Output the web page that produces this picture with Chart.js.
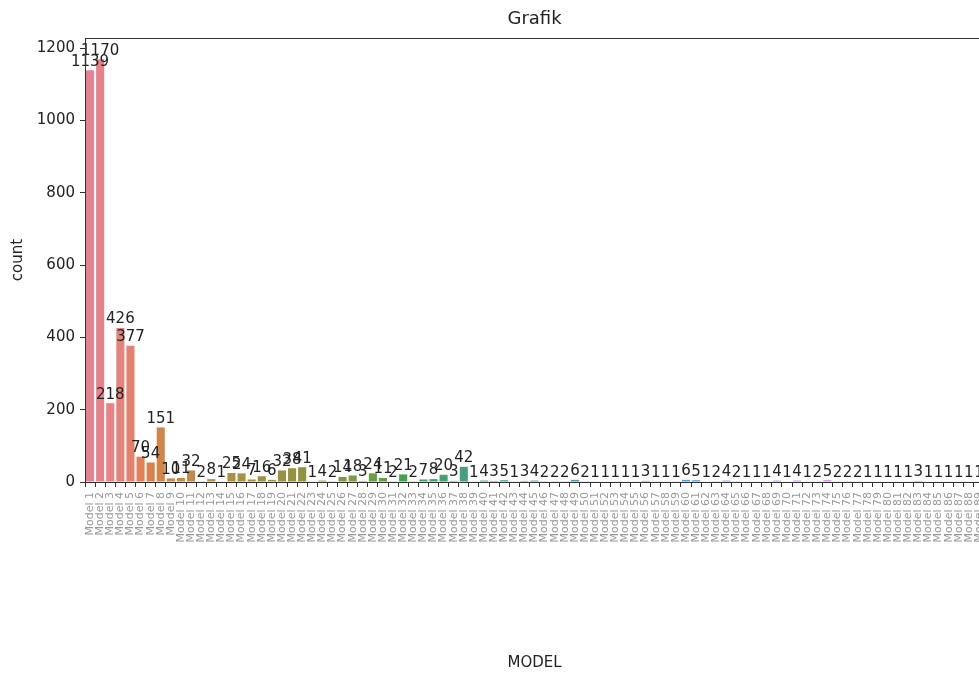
<!DOCTYPE html>
<html>
<head>
<meta charset="utf-8">
<script src="https://cdn.jsdelivr.net/npm/chart.js@4.4.1/dist/chart.umd.min.js"></script>
<style>
  html, body { margin: 0; padding: 0; background: #fff; overflow: hidden; }
  #wrap { width: 1000px; height: 675px; }
</style>
</head>
<body>
<div id="wrap"><canvas id="chart" width="1000" height="675"></canvas></div>
<script>
// Count of records per model
const models = [
  'Model 1','Model 2','Model 3','Model 4','Model 5','Model 6','Model 7','Model 8','Model 9','Model 10',
  'Model 11','Model 12','Model 13','Model 14','Model 15','Model 16','Model 17','Model 18','Model 19','Model 20',
  'Model 21','Model 22','Model 23','Model 24','Model 25','Model 26','Model 27','Model 28','Model 29','Model 30',
  'Model 31','Model 32','Model 33','Model 34','Model 35','Model 36','Model 37','Model 38','Model 39','Model 40',
  'Model 41','Model 42','Model 43','Model 44','Model 45','Model 46','Model 47','Model 48','Model 49','Model 50',
  'Model 51','Model 52','Model 53','Model 54','Model 55','Model 56','Model 57','Model 58','Model 59','Model 60',
  'Model 61','Model 62','Model 63','Model 64','Model 65','Model 66','Model 67','Model 68','Model 69','Model 70',
  'Model 71','Model 72','Model 73','Model 74','Model 75','Model 76','Model 77','Model 78','Model 79','Model 80',
  'Model 81','Model 82','Model 83','Model 84','Model 85','Model 86','Model 87','Model 88','Model 89'
];
const counts = [
  1139, 1170, 218, 426, 377, 70, 54, 151, 10, 11,
  32, 2, 8, 1, 25, 24, 7, 16, 6, 32,
  38, 41, 1, 4, 2, 14, 18, 3, 24, 11,
  2, 21, 2, 7, 8, 20, 3, 42, 1, 4,
  3, 5, 1, 3, 4, 2, 2, 2, 6, 2,
  1, 1, 1, 1, 1, 3, 1, 1, 1, 6,
  5, 1, 2, 4, 2, 1, 1, 1, 4, 1,
  4, 1, 2, 5, 2, 2, 2, 1, 1, 1,
  1, 1, 3, 1, 1, 1, 1, 1, 1
];
const yTicks = [0, 200, 400, 600, 800, 1000, 1200];
const chartTitle = 'Grafik';
const xTitle = 'MODEL';
const yTitle = 'count';

// HUSL palette (seaborn style), desaturated to 75%
const HM = [[3.2406, -1.5372, -0.4986], [-0.9689, 1.8758, 0.0415], [0.0557, -0.2040, 1.0570]];
const refU = 0.19784, refV = 0.46834, kappa = 24389 / 27, eps = 216 / 24389;
function maxChroma(L, H) {
  const hr = H / 360 * 2 * Math.PI, sinH = Math.sin(hr), cosH = Math.cos(hr);
  const sub1 = Math.pow(L + 16, 3) / 1560896;
  const sub2 = sub1 > eps ? sub1 : L / kappa;
  let best = Infinity;
  for (const [m1, m2, m3] of HM) {
    const top = (0.99915 * m1 + 1.05122 * m2 + 1.14460 * m3) * sub2;
    const rb = 0.86330 * m3 - 0.17266 * m2;
    const lb = 0.12949 * m3 - 0.38848 * m1;
    const bottom = (rb * sinH + lb * cosH) * sub2;
    for (const t of [0, 1]) {
      const C = L * (top - 1.05122 * t) / (bottom + 0.17266 * sinH * t);
      if (C > 0 && C < best) best = C;
    }
  }
  return best;
}
function huslToRgb(h, s, l) {
  const C = maxChroma(l, h) / 100 * s;
  const hr = h / 360 * 2 * Math.PI;
  const U = Math.cos(hr) * C, V = Math.sin(hr) * C;
  const Y = l > 8 ? Math.pow((l + 16) / 116, 3) : l / kappa;
  const vu = U / (13 * l) + refU, vv = V / (13 * l) + refV;
  const X = -(9 * Y * vu) / ((vu - 4) * vv - vu * vv);
  const Z = (9 * Y - 15 * vv * Y - vv * X) / (3 * vv);
  return HM.map(([a, b, c]) => {
    const lin = a * X + b * Y + c * Z;
    const v = lin <= 0.0031308 ? 12.92 * lin : 1.055 * Math.pow(lin, 1 / 2.4) - 0.055;
    return Math.min(1, Math.max(0, v));
  });
}
function desaturated([r, g, b], prop) {
  const mx = Math.max(r, g, b), mn = Math.min(r, g, b);
  const l = (mx + mn) / 2;
  let h = 0, s = 0;
  if (mx !== mn) {
    const d = mx - mn;
    s = l <= 0.5 ? d / (mx + mn) : d / (2 - mx - mn);
    if (mx === r) h = ((g - b) / d) % 6;
    else if (mx === g) h = (b - r) / d + 2;
    else h = (r - g) / d + 4;
    h = (h * 60 + 360) % 360;
  }
  return `hsl(${h.toFixed(2)}, ${(s * prop * 100).toFixed(2)}%, ${(l * 100).toFixed(2)}%)`;
}
const n = models.length;
const barColors = models.map((_, i) => {
  const hue = ((i / n + 0.01) % 1) * 359;
  return desaturated(huslToRgb(hue, 0.9 * 99, 0.65 * 99), 0.75);
});

const FONT = '"DejaVu Sans", sans-serif';
Chart.defaults.font.family = FONT;

// Value labels above the bars, axes frame and the chart title
const decor = {
  id: 'decor',
  afterDatasetsDraw(chart) {
    const ctx = chart.ctx;
    const meta = chart.getDatasetMeta(0);
    ctx.save();
    ctx.font = '15px ' + FONT;
    ctx.fillStyle = '#222';
    ctx.textAlign = 'center';
    ctx.textBaseline = 'bottom';
    meta.data.forEach((bar, i) => ctx.fillText(String(counts[i]), bar.x, bar.y - 1));
    ctx.restore();
  },
  afterDraw(chart) {
    const ctx = chart.ctx, a = chart.chartArea;
    ctx.save();
    ctx.strokeStyle = '#333';
    ctx.lineWidth = 1;
    ctx.strokeRect(Math.round(a.left) + 0.5, Math.round(a.top) + 0.5,
                   Math.round(a.right - a.left), Math.round(a.bottom - a.top));
    ctx.font = '18px ' + FONT;
    ctx.fillStyle = '#222';
    ctx.textAlign = 'center';
    ctx.textBaseline = 'middle';
    ctx.fillText(chartTitle, (a.left + a.right) / 2, 19);
    ctx.restore();
  }
};

new Chart(document.getElementById('chart'), {
  type: 'bar',
  data: {
    labels: models,
    datasets: [{
      data: counts,
      backgroundColor: barColors,
      borderWidth: 0,
      categoryPercentage: 0.8,
      barPercentage: 1.0
    }]
  },
  options: {
    responsive: false,
    animation: false,
    devicePixelRatio: 1,
    layout: { padding: { top: 38, right: 16, left: 0, bottom: 0 } },
    plugins: { legend: { display: false }, tooltip: { enabled: false } },
    scales: {
      x: {
        type: 'category',
        offset: true,
        grid: { drawOnChartArea: false, drawTicks: true, tickLength: 5, color: '#333' },
        border: { display: true, color: '#333' },
        ticks: {
          autoSkip: false, minRotation: 90, maxRotation: 90,
          color: '#999', font: { size: 11 }, padding: 5
        },
        title: { display: true, text: xTitle, color: '#222', font: { size: 15 }, padding: { top: 4, bottom: 3 } },
        afterFit(scale) { scale.height = 193; }
      },
      y: {
        min: 0,
        max: 1228.5,
        grid: { drawOnChartArea: false, drawTicks: true, tickLength: 5, color: '#333' },
        border: { display: true, color: '#333' },
        ticks: { color: '#222', font: { size: 15 }, padding: 5, callback: v => String(v) },
        afterBuildTicks(axis) { axis.ticks = yTicks.map(v => ({ value: v })); },
        title: { display: true, text: yTitle, color: '#222', font: { size: 15 }, padding: { top: 9, bottom: 0 } },
        afterFit(scale) { scale.width = 85; }
      }
    }
  },
  plugins: [decor]
});
</script>
</body>
</html>
